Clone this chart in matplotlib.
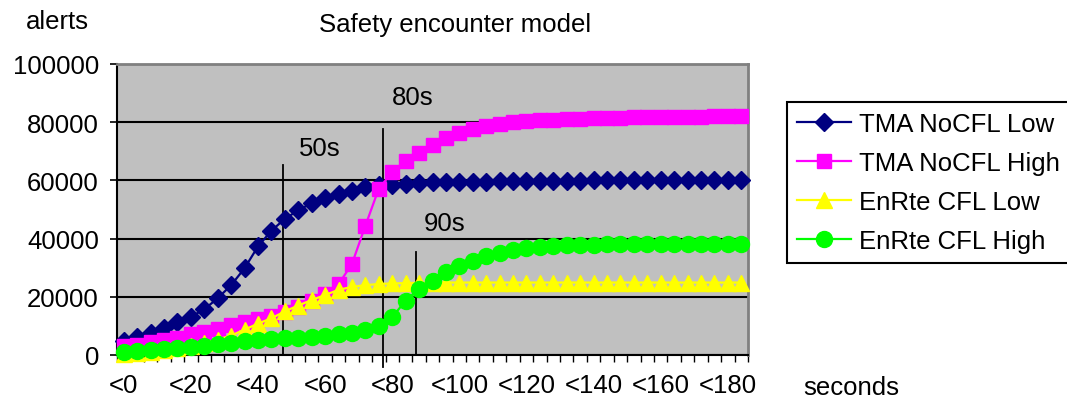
import numpy as np
import matplotlib
matplotlib.use('Agg')
import matplotlib.pyplot as plt

plt.rcParams['font.family'] = ['Liberation Sans', 'DejaVu Sans']

# category axis: one bin every 4 seconds, labelled every 5th bin
categories = ['<%d' % s for s in range(0, 188, 4)]
shown_labels = ['<0', '<20', '<40', '<60', '<80', '<100', '<120', '<140', '<160', '<180']

tma_low = [4800, 6300, 7700, 9200, 11200, 13100, 15700, 19500, 24000, 29800,
           37300, 42700, 46800, 49700, 52200, 53900, 55300, 56500, 57600, 58300,
           58500, 58800, 59100, 59300, 59400, 59500, 59550, 59600, 59650, 59700,
           59750, 59800, 59850, 59900, 59950, 60000, 60000, 60050, 60100, 60100,
           60150, 60150, 60200, 60200, 60250, 60250, 60300]
tma_high = [3000, 3400, 4300, 5200, 6000, 7100, 8000, 9100, 10200, 11300,
            12300, 13400, 14800, 16500, 18400, 20800, 24300, 31300, 44400, 57200,
            62800, 66500, 69500, 72200, 74500, 76300, 77700, 78700, 79500, 80000,
            80400, 80700, 80900, 81100, 81250, 81400, 81500, 81600, 81700, 81750,
            81800, 81850, 81900, 81950, 82000, 82050, 82100]
enrte_low = [300, 700, 1200, 1700, 2300, 3000, 4100, 5300, 6700, 8700,
             10800, 12600, 15000, 17000, 18900, 20600, 22400, 23400, 24000, 24400,
             24600, 24700, 24800, 24850, 24900, 24900, 24900, 24900, 24900, 24900,
             24900, 24900, 24900, 24900, 24900, 24900, 24900, 24900, 24900, 24900,
             24900, 24900, 24900, 24900, 24900, 24900, 24900]
enrte_high = [900, 1400, 1800, 2100, 2400, 2700, 3200, 3700, 4200, 4700,
              5100, 5400, 5700, 6000, 6300, 6700, 7100, 7700, 8600, 10100,
              13000, 18700, 22700, 25500, 28400, 30500, 32400, 33900, 35000, 36000,
              36700, 37200, 37500, 37700, 37800, 37900, 38000, 38000, 38000, 38100,
              38100, 38100, 38100, 38100, 38200, 38200, 38200]

series_names = ['TMA NoCFL Low', 'TMA NoCFL High', 'EnRte CFL Low', 'EnRte CFL High']

# hand-drawn marker lines in the original: label, x (category units), top value
mark_labels = ['50s', '80s', '90s']
mark_x = [11.85, 19.3, 21.75]
mark_top = [65300, 77700, 35400]
mark_bottom = [0, -4000, 0]
label_pos = [(14.6, 71000), (21.5, 88500), (23.9, 45500)]

FS = 18.5

fig = plt.figure(figsize=(10.67, 4.06), dpi=100)
ax = fig.add_axes([117/1067, 1-356/406, 631/1067, 291/406])
ax.set_facecolor('#c0c0c0')

x = np.arange(len(categories))
styles = [('#000080', 'D', 9), ('#ff00ff', 's', 10.5), ('#ffff00', '^', 11.5), ('#00ff00', 'o', 11.5)]
for vals, name, (c, m, ms) in zip([tma_low, tma_high, enrte_low, enrte_high], series_names, styles):
    ax.plot(x, vals, color=c, marker=m, markersize=ms, linewidth=1.6,
            markeredgecolor=c, label=name, zorder=3, clip_on=False)

ax.set_xlim(-0.5, len(categories) - 0.5)
ax.set_ylim(0, 100000)
ax.set_yticks(range(0, 100001, 20000))
ax.set_yticklabels([str(v) for v in range(0, 100001, 20000)], fontsize=FS)
ax.grid(True, axis='y', color='black', linewidth=1.5, zorder=1)
ax.set_axisbelow(True)

ax.set_xticks(np.arange(0, len(categories), 5))
ax.set_xticklabels(shown_labels, fontsize=FS)
ax.set_xticks(np.arange(-0.5, len(categories)), minor=True)
ax.tick_params(axis='x', which='major', length=0, pad=13)
ax.tick_params(axis='x', which='minor', length=5, width=1, direction='out')
ax.tick_params(axis='y', length=5, width=1.2, pad=8)

for side in ['left', 'bottom']:
    ax.spines[side].set_color('black')
    ax.spines[side].set_linewidth(1.5)
for side in ['top', 'right']:
    ax.spines[side].set_color('#808080')
    ax.spines[side].set_linewidth(2)

for lab, mx, top, bot, (tx, ty) in zip(mark_labels, mark_x, mark_top, mark_bottom, label_pos):
    ax.plot([mx, mx], [bot, top], color='black', linewidth=1.3, zorder=2, clip_on=False)
    ax.text(tx, ty, lab, fontsize=FS, ha='center', va='center')

fig.text(455/1067, 1-25/406, 'Safety encounter model', fontsize=FS, ha='center', va='center')
fig.text(26/1067, 1-22/406, 'alerts', fontsize=FS, ha='left', va='center')
fig.text(851/1067, 1-388/406, 'seconds', fontsize=FS, ha='center', va='center')

leg = ax.legend(loc='upper left', bbox_to_anchor=(787/1067, 1-103/406),
                bbox_transform=fig.transFigure, fontsize=FS, frameon=True,
                fancybox=False, framealpha=1, edgecolor='black', borderpad=0.4,
                labelspacing=0.58, handlelength=2.1, handletextpad=0.3,
                borderaxespad=0)
leg.get_frame().set_linewidth(1.5)

fig.savefig('out.png', dpi=100, facecolor='white')
